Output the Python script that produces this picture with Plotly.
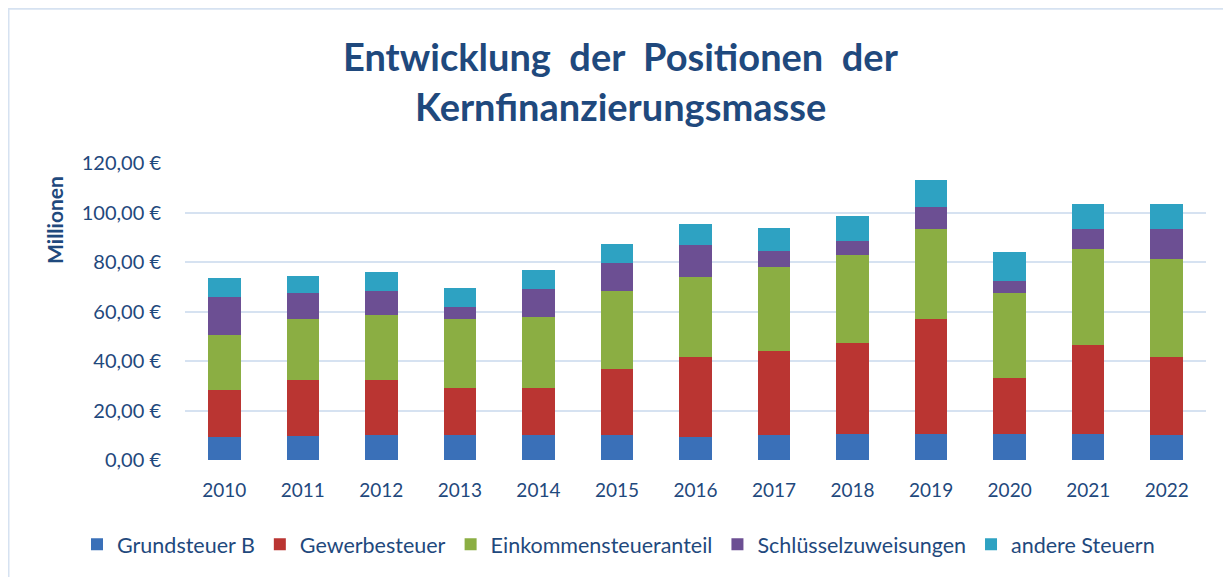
import plotly.graph_objects as go

years = ["2010", "2011", "2012", "2013", "2014", "2015", "2016", "2017", "2018", "2019", "2020", "2021", "2022"]
grundsteuer_b = [9.1, 9.9, 10.0, 10.0, 10.0, 10.0, 9.1, 10.0, 10.7, 10.7, 10.7, 10.7, 10.0]
gewerbesteuer = [19.3, 22.6, 22.5, 19.2, 19.2, 26.9, 32.6, 34.2, 36.7, 46.4, 22.6, 35.9, 31.7]
einkommensteueranteil = [22.2, 24.6, 26.2, 27.9, 28.7, 31.4, 32.3, 33.8, 35.5, 36.3, 34.2, 38.7, 39.6]
schluesselzuweisungen = [15.3, 10.3, 9.6, 4.8, 11.1, 11.3, 12.9, 6.5, 5.6, 8.8, 4.9, 8.1, 12.1]
andere_steuern = [7.7, 7.0, 7.7, 7.7, 7.8, 7.7, 8.5, 9.3, 10.1, 10.9, 11.7, 10.1, 10.1]

y_ticks = [0, 20, 40, 60, 80, 100, 120]
y_tick_labels = ["0,00 €", "20,00 €", "40,00 €", "60,00 €", "80,00 €", "100,00 €", "120,00 €"]

series = [
    ("Grundsteuer B", grundsteuer_b, "#3A70B8"),
    ("Gewerbesteuer", gewerbesteuer, "#BA3532"),
    ("Einkommensteueranteil", einkommensteueranteil, "#8BAE43"),
    ("Schlüsselzuweisungen", schluesselzuweisungen, "#6C4F93"),
    ("andere Steuern", andere_steuern, "#2EA2C2"),
]

navy = "#1F497D"
font_family = "Lato, 'Open Sans', sans-serif"

fig = go.Figure()
for name, vals, color in series:
    fig.add_trace(go.Bar(
        name=name, x=years, y=vals,
        marker=dict(color=color, line=dict(width=0)),
        hovertemplate="%{x}: %{y:.2f} Mio. €<extra>" + name + "</extra>",
    ))

# page renders with an 8px body margin, so layout pixels are offset by 8
OFF = 8
W, H = 1231, 577
L, R, T, B = 185 - OFF, 25 + OFF, 163 - OFF, 577 - (460.5 - OFF)
pw = W - L - R
ph = H - T - B


def px2x(px):
    return (px - OFF - L) / pw


def px2y(py):
    return (H - B - (py - OFF)) / ph


fig.update_layout(
    width=W, height=H,
    barmode="stack",
    bargap=0.586,
    paper_bgcolor="white",
    plot_bgcolor="white",
    margin=dict(l=L, r=R, t=T, b=B),
    font=dict(family=font_family, color=navy, size=18),
    showlegend=True,
    legend=dict(
        orientation="h", x=px2x(77), xanchor="left", y=px2y(545), yanchor="middle",
        font=dict(size=21.5, color=navy),
        itemwidth=30, tracegroupgap=0,
        traceorder="normal",
    ),
    xaxis=dict(
        showgrid=False, showline=False, zeroline=False,
        tickfont=dict(size=19, color=navy),
        ticks="", ticklabelstandoff=17,
    ),
    yaxis=dict(
        range=[0, 120], tickvals=y_ticks, ticktext=y_tick_labels,
        showgrid=True, gridcolor="#D6E2F1", gridwidth=2,
        zeroline=False, showline=False,
        tickfont=dict(size=20, color=navy),
        ticks="", ticklabelstandoff=23,
    ),
    annotations=[
        dict(
            text="<b>Entwicklung  der  Positionen  der</b>", xref="paper", yref="paper",
            x=px2x(621), y=px2y(56), showarrow=False,
            font=dict(size=38, color=navy, family=font_family),
            xanchor="center", yanchor="middle",
        ),
        dict(
            text="<b>Kernfinanzierungsmasse</b>", xref="paper", yref="paper",
            x=px2x(620), y=px2y(106), showarrow=False,
            font=dict(size=38, color=navy, family=font_family),
            xanchor="center", yanchor="middle",
        ),
        dict(
            text="<b>Millionen</b>", xref="paper", yref="paper",
            x=px2x(55), y=px2y(220), textangle=-90,
            showarrow=False, font=dict(size=21, color=navy, family=font_family),
            xanchor="center", yanchor="middle",
        ),
    ],
    shapes=[dict(
        type="rect", xref="paper", yref="paper",
        x0=px2x(8.5), x1=px2x(W + 20),
        y0=px2y(H + 20), y1=px2y(8.5),
        line=dict(color="#D6E2F1", width=2), fillcolor="rgba(0,0,0,0)", layer="below",
    )],
)

fig.write_html("out.html")
